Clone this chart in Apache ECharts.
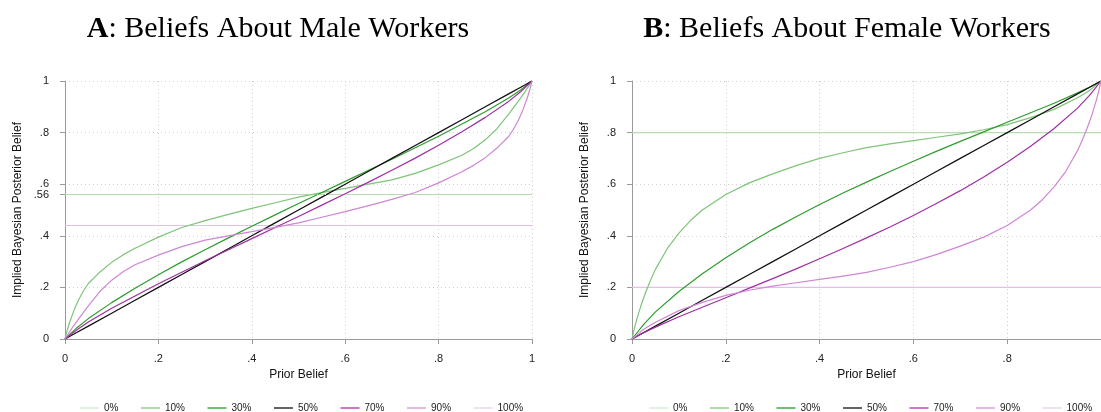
<!DOCTYPE html>
<html>
<head>
<meta charset="utf-8">
<script src="https://cdn.jsdelivr.net/npm/echarts@6/dist/echarts.min.js"></script>
<style>
html,body{margin:0;padding:0;background:#fff;}
#chart{width:1101px;height:412px;}
</style>
</head>
<body>
<div id="chart"></div>
<script>
// ---------- Data ----------
const seriesNames = ['0%', '10%', '30%', '50%', '70%', '90%', '100%'];
const xTicks = [0, 0.2, 0.4, 0.6, 0.8, 1];
const yTicksA = [0, 0.2, 0.4, 0.56, 0.6, 0.8, 1];
const yTicksB = [0, 0.2, 0.4, 0.6, 0.8, 1];

// common prior grid for 30/50/70 curves
const priorGrid = [0, .025, .05, .1, .15, .2, .25, .3, .35, .4, .45, .5, .55, .6, .65, .7, .75, .8, .85, .9, .95, .975, 1];
const line50 = [0, .025, .05, .1, .15, .2, .25, .3, .35, .4, .45, .5, .55, .6, .65, .7, .75, .8, .85, .9, .95, .975, 1];

// Panel A: Male workers
const flatX = [0, 1];
const flatA0 = [0.56, 0.56];
const flatA100 = [0.44, 0.44];
const priorA10 = [0, .005, .01, .02, .03, .04, .05, .075, .1, .125, .15, .2, .25, .3, .35, .4, .45, .5, .55, .6, .65, .7, .75, .8, .85, .875, .9, .925, .95, .97, .985, 1];
const postA10 = [0, .035, .065, .115, .155, .188, .215, .26, .297, .327, .352, .395, .432, .459, .483, .506, .528, .55, .567, .584, .600, .617, .642, .675, .712, .738, .772, .815, .872, .92, .958, 1];
const postA30 = [0, .043, .079, .141, .197, .249, .299, .346, .392, .437, .481, .525, .568, .611, .654, .697, .741, .786, .833, .881, .934, .964, 1];
const postA70 = [0, .035, .066, .119, .167, .214, .259, .303, .346, .389, .432, .475, .519, .563, .608, .654, .701, .751, .803, .859, .921, .957, 1];
const priorA90 = [0, .015, .03, .05, .075, .1, .125, .15, .2, .25, .3, .35, .4, .45, .5, .55, .6, .65, .7, .75, .8, .85, .875, .9, .925, .95, .96, .97, .98, .99, .995, 1];
const postA90 = [0, .042, .08, .128, .185, .228, .262, .288, .325, .358, .383, .40, .416, .433, .45, .472, .494, .517, .541, .568, .605, .648, .673, .703, .74, .785, .812, .845, .885, .935, .965, 1];

// Panel B: Female workers
const flatB0 = [0.8, 0.8];
const flatB100 = [0.2, 0.2];
const priorB10 = [0, .005, .01, .02, .03, .04, .05, .075, .1, .125, .15, .2, .25, .3, .35, .4, .45, .5, .55, .6, .65, .7, .75, .8, .85, .9, .95, .975, .99, 1];
const postB10 = [0, .04, .075, .135, .185, .23, .27, .35, .41, .46, .50, .56, .605, .64, .672, .70, .722, .742, .756, .769, .782, .795, .811, .831, .858, .89, .935, .962, .985, 1];
const postB30 = [0, .057, .105, .184, .253, .315, .372, .425, .474, .521, .566, .608, .649, .689, .728, .766, .803, .840, .877, .914, .954, .976, 1];
const postB70 = [0, .024, .046, .086, .123, .160, .197, .234, .272, .311, .351, .392, .434, .479, .526, .575, .628, .685, .747, .816, .895, .943, 1];
const priorB90 = [0, .01, .025, .05, .1, .15, .2, .25, .3, .35, .4, .45, .5, .55, .6, .65, .7, .75, .8, .85, .875, .9, .925, .95, .96, .97, .98, .99, .995, 1];
const postB90 = [0, .015, .038, .065, .11, .142, .169, .189, .205, .218, .231, .244, .258, .278, .30, .328, .36, .395, .44, .50, .54, .59, .65, .73, .77, .815, .865, .925, .96, 1];

// ---------- Styling ----------
const lineColors = ['#b6dcaf', '#7fc479', '#2e9c2e', '#111111', '#a02ea4', '#cf86d3', '#e6bde9'];
const legendColors = ['#d3ebcf', '#8ccc86', '#35a635', '#222222', '#b83cb8', '#d99ad9', '#eed2ee'];
const sans = 'Liberation Sans, Arial, Helvetica, sans-serif';
const serif = 'Liberation Serif, Times New Roman, serif';
const gridLine = { show: true, lineStyle: { color: '#cfcfcf', type: [1, 3], width: 1 } };

function pairs(xs, ys) { return xs.map((x, i) => [x, ys[i]]); }
function fmt(v) {
  if (v === 0) return '0';
  if (v === 1) return '1';
  return String(Math.round(v * 100) / 100).replace(/^0/, '');
}

function panelSeries(idx, data) {
  return data.map((d, i) => ({
    name: seriesNames[i],
    type: 'line',
    xAxisIndex: idx,
    yAxisIndex: idx,
    data: d,
    symbol: 'none',
    smooth: false,
    color: legendColors[i],
    lineStyle: { color: lineColors[i], width: i === 3 ? 1.3 : 1.2, join: 'round' },
    z: i === 0 || i === 6 ? 1 : 2,
    animation: false
  }));
}

const seriesA = panelSeries(0, [
  pairs(flatX, flatA0),
  pairs(priorA10, postA10),
  pairs(priorGrid, postA30),
  pairs(priorGrid, line50),
  pairs(priorGrid, postA70),
  pairs(priorA90, postA90),
  pairs(flatX, flatA100)
]);
seriesA[0].markLine = {
  silent: true, symbol: 'none', label: { show: false }, animation: false,
  lineStyle: { color: '#c8c8c8', type: [1, 3], width: 1 },
  data: [{ yAxis: 0.56 }]
};
const seriesB = panelSeries(1, [
  pairs(flatX, flatB0),
  pairs(priorB10, postB10),
  pairs(priorGrid, postB30),
  pairs(priorGrid, line50),
  pairs(priorGrid, postB70),
  pairs(priorB90, postB90),
  pairs(flatX, flatB100)
]);

function xAxisFor(gridIndex, hideMax) {
  return {
    type: 'value', gridIndex, min: 0, max: 1, interval: 0.2, offset: 8,
    name: 'Prior Belief', nameLocation: 'middle', nameGap: 22,
    nameTextStyle: { fontFamily: sans, fontSize: 12, color: '#111' },
    axisLine: { show: true, lineStyle: { color: '#9a9a9a', width: 1 } },
    axisTick: { show: true, length: 5, lineStyle: { color: '#9a9a9a' }, customValues: xTicks },
    axisLabel: { formatter: fmt, fontFamily: sans, fontSize: 11, color: '#222', margin: 6, showMaxLabel: !hideMax },
    splitLine: gridLine
  };
}
function yAxisFor(gridIndex, ticks) {
  return {
    type: 'value', gridIndex, min: 0, max: 1, interval: 0.2, offset: 8,
    name: 'Implied Bayesian Posterior Belief', nameLocation: 'middle', nameGap: 33,
    nameTextStyle: { fontFamily: sans, fontSize: 12, color: '#111' },
    axisLine: { show: true, lineStyle: { color: '#9a9a9a', width: 1 } },
    axisTick: { show: true, length: 5, lineStyle: { color: '#9a9a9a' }, customValues: ticks },
    axisLabel: { formatter: fmt, fontFamily: sans, fontSize: 11, color: '#222', margin: 8, customValues: ticks },
    splitLine: gridLine
  };
}
function legendFor(left) {
  return {
    data: seriesNames, left, top: 398, orient: 'horizontal',
    icon: 'rect', itemWidth: 19, itemHeight: 1.4, itemGap: 22.5,
    selectedMode: false,
    textStyle: { fontFamily: sans, fontSize: 10, color: '#222' }
  };
}

const titleStyle = { fontFamily: serif, fontSize: 30, fontWeight: 'normal', color: '#000',
  rich: { b: { fontFamily: serif, fontSize: 30, fontWeight: 'bold', color: '#000' } } };

const option = {
  backgroundColor: '#ffffff',
  animation: false,
  title: [
    { text: '{b|A}: Beliefs About Male Workers', left: 273, top: 9, textAlign: 'center', textStyle: titleStyle },
    { text: '{b|B}: Beliefs About Female Workers', left: 842, top: 9, textAlign: 'center', textStyle: titleStyle }
  ],
  legend: [legendFor(75), legendFor(644)],
  grid: [
    { left: 65, right: 569, top: 81, bottom: 73 },
    { left: 632, right: -3, top: 81, bottom: 73 }
  ],
  xAxis: [xAxisFor(0, false), xAxisFor(1, true)],
  yAxis: [yAxisFor(0, yTicksA), yAxisFor(1, yTicksB)],
  series: seriesA.concat(seriesB)
};

const chart = echarts.init(document.getElementById('chart'), null, { renderer: 'canvas' });
chart.setOption(option);
</script>
</body>
</html>
